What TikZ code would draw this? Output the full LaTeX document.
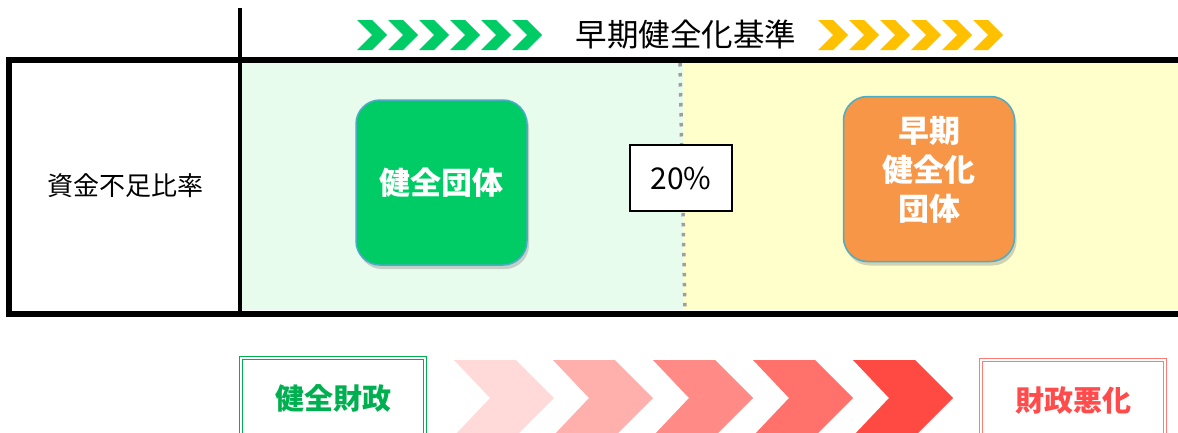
\documentclass[tikz,border=0pt]{standalone}
\usepackage{fontspec}
\setmainfont{Noto Sans CJK JP}
\usetikzlibrary{positioning}
\usetikzlibrary{shadows}

\definecolor{healthygreen}{HTML}{00CC66}
\definecolor{earlyorange}{HTML}{F79646}
\definecolor{groupedge}{HTML}{4BACC6}
\definecolor{zonegreen}{HTML}{E8FCEE}
\definecolor{zoneyellow}{HTML}{FFFFCC}
\definecolor{markyellow}{HTML}{FFC000}
\definecolor{goodgreen}{HTML}{00B050}
\definecolor{badred}{HTML}{FF4B4B}
\definecolor{badedge}{HTML}{FF7B74}
\definecolor{chevA}{HTML}{FFDAD8}
\definecolor{chevB}{HTML}{FFB0AD}
\definecolor{chevC}{HTML}{FF8A86}
\definecolor{chevD}{HTML}{FF716A}
\definecolor{chevE}{HTML}{FF4A43}

\begin{document}
\begin{tikzpicture}
    [
    x=1pt, y=-1pt,
    every group/.style={rounded corners=24pt, draw=groupedge, line width=1.5pt,
        minimum width=171pt, minimum height=165pt, text=white, align=center,
        font=\bfseries\fontsize{31}{39}\selectfont,
        drop shadow={opacity=0.35, shadow xshift=2pt, shadow yshift=-4pt}},
    every state/.style={fill=white, double, double distance=1.5pt, line width=1.2pt,
        minimum width=184pt, minimum height=80pt,
        font=\bfseries\fontsize{29}{34}\selectfont},
    threshold/.style={draw, fill=white, line width=1.5pt,
        minimum width=102pt, minimum height=66pt, font=\fontsize{30}{34}\selectfont},
    ]

    \useasboundingbox (0,0) rectangle (1178,432);

    % zones
    \fill[zonegreen] (241,63) rectangle (683,310);
    \fill[zoneyellow] (683,63) rectangle (1178,310);
    \draw[black!38, line width=3.5pt, dash pattern=on 3.5pt off 6.5pt] (680,63) -- (685,311);

    % frame
    \draw[line width=6pt] (1190,60) -| (9,313.5) -- (1190,313.5);
    \draw[line width=3.5pt] (240,8) -- (240,313);

    % top marks
    \node[font=\fontsize{31.5}{36}\selectfont] (lbl_limit) at (686,35) {早期健全化基準};
    \foreach \i in {0,...,5}
    {
        \fill[healthygreen] ({357+31*\i},20) -- ++(15,0) -- ++(15,15) -- ++(-15,15) -- ++(-15,0) -- ++(15,-15) -- cycle;
        \fill[markyellow] ({818+31*\i},20) -- ++(15,0) -- ++(15,15) -- ++(-15,15) -- ++(-15,0) -- ++(15,-15) -- cycle;
    }

    \node[font=\fontsize{26}{30}\selectfont] (lbl_ratio) at (125,186) {資金不足比率};

    \node[every group, fill=healthygreen] (grp_healthy) at (441.5,182.5) {健全団体};
    \node[every group, fill=earlyorange] (grp_early) at (929,179) {早期\\健全化\\団体\rule[-22pt]{0pt}{1pt}};
    \node[threshold] (box_limit) at (681,178) {20\%};

    % bottom scale
    \node[every state, draw=goodgreen, text=goodgreen] (st_healthy) at (333,398) {健全財政};
    \node[every state, draw=badedge, text=badred] (st_worse) at (1073,400) {財政悪化};
    \foreach \x/\c in {454/chevA, 553/chevB, 653/chevC, 753/chevD, 853/chevE}
        \fill[\c] (\x,360) -- ++(62,0) -- ++(38,38) -- ++(-38,38) -- ++(-62,0) -- ++(36,-38) -- cycle;
\end{tikzpicture}
\end{document}
